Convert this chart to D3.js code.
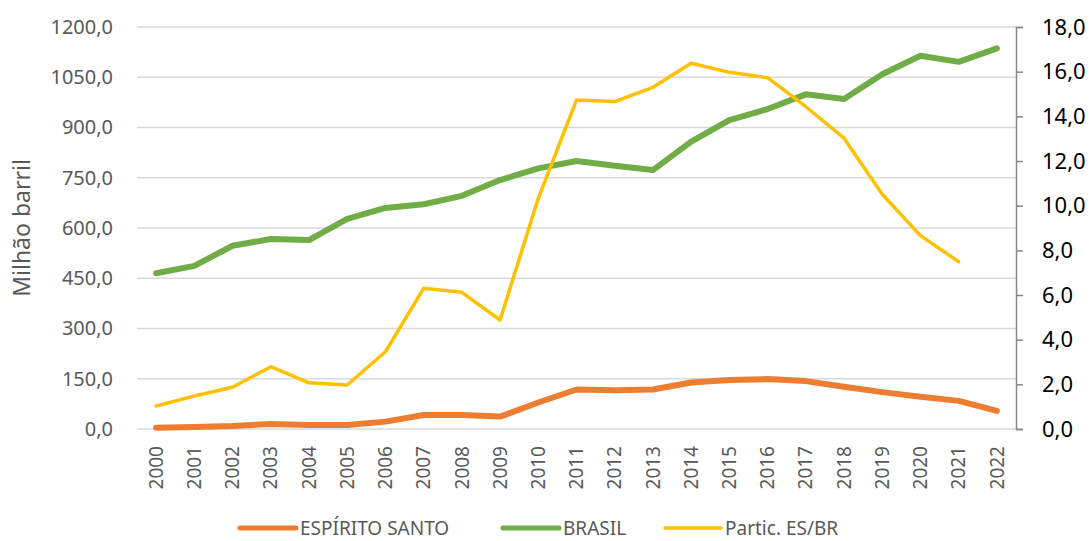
<!DOCTYPE html>
<html>
<head>
<meta charset="utf-8">
<script src="https://cdn.jsdelivr.net/npm/d3@7"></script>
<style>
  body { margin: 0; background: #fff; }
  text { font-family: "Noto Sans", sans-serif; }
</style>
</head>
<body>
<div id="chart"></div>
<script>
// Chart data
const years = ["2000","2001","2002","2003","2004","2005","2006","2007","2008","2009","2010",
    "2011","2012","2013","2014","2015","2016","2017","2018","2019","2020","2021","2022"];

const espiritoSanto = [4, 6, 9, 15, 12, 12, 22, 42, 42, 37, 79, 118, 116, 118, 139, 146, 149, 143, 126, 110, 96, 84, 54];
const brasil = [465, 487, 547, 567, 564, 627, 660, 671, 696, 743, 778, 800, 786, 773, 858, 922, 955, 999, 985, 1059, 1114, 1096, 1136];
// share ES/BR (%), no value for 2022
const partic = [1.03, 1.48, 1.87, 2.79, 2.07, 1.97, 3.46, 6.30, 6.12, 4.88, 10.33, 14.73, 14.66, 15.30, 16.38, 15.97, 15.73, 14.43, 13.02, 10.51, 8.66, 7.49, null];

const leftTicks = [0, 150, 300, 450, 600, 750, 900, 1050, 1200];
const rightTicks = [0, 2, 4, 6, 8, 10, 12, 14, 16, 18];

const series = [
    { name: "ESPÍRITO SANTO", values: espiritoSanto, axis: "left", color: "#ED7D31", width: 6 },
    { name: "BRASIL", values: brasil, axis: "left", color: "#70AD47", width: 6 },
    { name: "Partic. ES/BR", values: partic, axis: "right", color: "#FFC000", width: 3.5 }
];

// Layout
const W = 1091, H = 541;
const plot = { left: 137, right: 1016, top: 27, bottom: 429 };
const fmt = v => d3.format(".1f")(v).replace(".", ",");

function createChart() {
    const svg = d3.select("#chart")
        .append("svg")
        .attr("width", W)
        .attr("height", H);

    const x = d3.scalePoint()
        .domain(years)
        .range([plot.left, plot.right])
        .padding(0.5);

    const yLeft = d3.scaleLinear()
        .domain([0, 1200])
        .range([plot.bottom, plot.top]);

    const yRight = d3.scaleLinear()
        .domain([0, 18])
        .range([plot.bottom, plot.top]);

    // gridlines
    svg.append("g")
        .selectAll("line")
        .data(leftTicks)
        .enter()
        .append("line")
        .attr("x1", plot.left)
        .attr("x2", plot.right)
        .attr("y1", d => yLeft(d))
        .attr("y2", d => yLeft(d))
        .attr("stroke", "#d9d9d9")
        .attr("stroke-width", 1.5);

    // left axis
    const leftAxis = svg.append("g")
        .attr("transform", `translate(${plot.left},0)`)
        .call(d3.axisLeft(yLeft).tickValues(leftTicks).tickSize(0).tickPadding(24).tickFormat(fmt));
    leftAxis.select(".domain").remove();
    leftAxis.selectAll("text")
        .attr("font-size", "20px")
        .attr("fill", "#595959");

    // right axis
    const rightAxis = svg.append("g")
        .attr("transform", `translate(${plot.right},0)`)
        .call(d3.axisRight(yRight).tickValues(rightTicks).tickSize(7).tickPadding(19).tickFormat(fmt));
    rightAxis.select(".domain")
        .attr("stroke", "#868686")
        .attr("stroke-width", 1.5);
    rightAxis.selectAll("line")
        .attr("stroke", "#868686")
        .attr("stroke-width", 1.5);
    rightAxis.selectAll("text")
        .attr("font-size", "22px")
        .attr("fill", "#000");

    // x labels
    svg.append("g")
        .selectAll("text")
        .data(years)
        .enter()
        .append("text")
        .attr("transform", d => `translate(${x(d)},446) rotate(-90)`)
        .attr("text-anchor", "end")
        .attr("dy", "0.35em")
        .attr("font-size", "19px")
        .attr("fill", "#595959")
        .text(d => d);

    // y title
    svg.append("text")
        .attr("transform", "translate(22,228) rotate(-90)")
        .attr("text-anchor", "middle")
        .attr("dy", "0.35em")
        .attr("font-size", "23px")
        .attr("fill", "#595959")
        .text("Milhão barril");

    // lines
    series.forEach(s => {
        const yScale = s.axis === "left" ? yLeft : yRight;
        const line = d3.line()
            .defined(d => d != null)
            .x((d, i) => x(years[i]))
            .y(d => yScale(d));
        svg.append("path")
            .datum(s.values)
            .attr("d", line)
            .attr("fill", "none")
            .attr("stroke", s.color)
            .attr("stroke-width", s.width)
            .attr("stroke-linejoin", "round")
            .attr("stroke-linecap", "round");
    });

    // legend
    const legendX = [240, 503, 665];
    const legend = svg.append("g")
        .selectAll("g")
        .data(series)
        .enter()
        .append("g")
        .attr("transform", (d, i) => `translate(${legendX[i]},528)`);
    legend.append("line")
        .attr("x1", 0)
        .attr("x2", 56)
        .attr("stroke", d => d.color)
        .attr("stroke-width", d => d.width === 6 ? 5 : 3.5)
        .attr("stroke-linecap", "round");
    legend.append("text")
        .attr("x", 60)
        .attr("dy", "0.35em")
        .attr("font-size", "19px")
        .attr("fill", "#595959")
        .text(d => d.name);
}

createChart();
</script>
</body>
</html>
